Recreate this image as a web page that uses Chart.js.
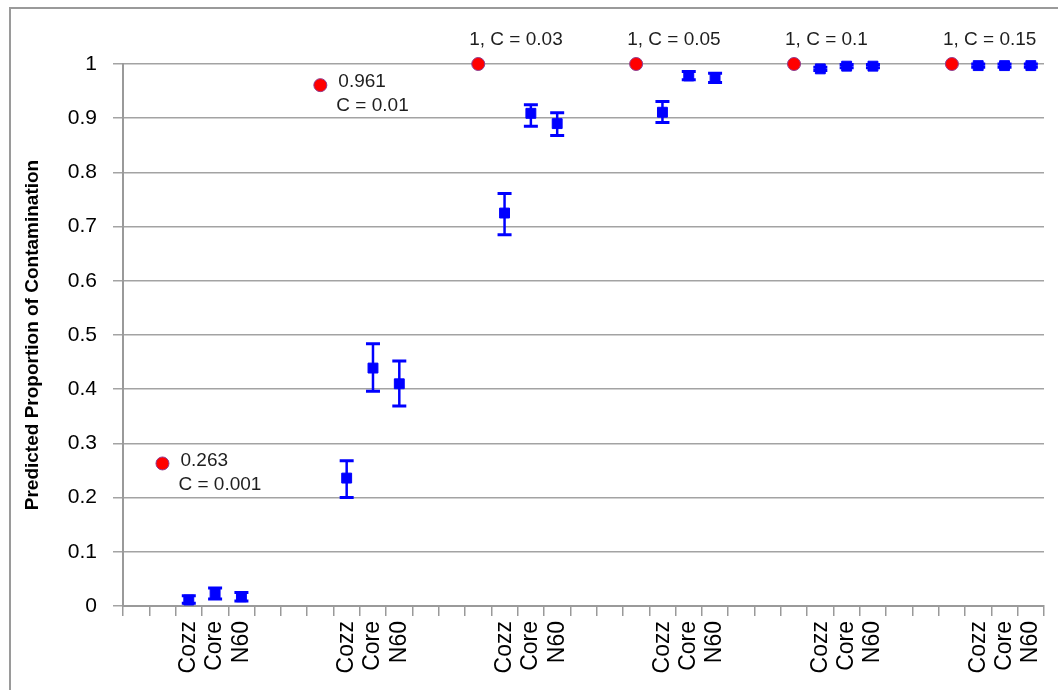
<!DOCTYPE html>
<html>
<head>
<meta charset="utf-8">
<script src="https://cdn.jsdelivr.net/npm/chart.js@4/dist/chart.umd.min.js"></script>
<style>
body{margin:0;background:#fff}
canvas{display:block}
</style>
</head>
<body>
<canvas id="chart" width="1058" height="690"></canvas>
<script>

// contamination level per group and the models fitted
const groups=["C = 0.001","C = 0.01","C = 0.03","C = 0.05","C = 0.1","C = 0.15"]
const models=["Cozz","Core","N60"]

// true proportion (red dots)
const truth=[0.263,0.961,1,1,1,1]

// predicted proportion with lower / upper bounds
const cozzVal=[0.011,0.236,0.725,0.911,0.991,0.997]
const cozzLo=[0.005,0.200,0.685,0.892,0.988,0.994]
const cozzHi=[0.019,0.268,0.761,0.931,0.994,1.000]

const coreVal=[0.023,0.439,0.909,0.978,0.996,0.997]
const coreLo=[0.013,0.396,0.885,0.971,0.993,0.994]
const coreHi=[0.033,0.484,0.925,0.986,0.999,1.000]

const n60Val=[0.017,0.410,0.890,0.974,0.996,0.997]
const n60Lo=[0.009,0.369,0.868,0.966,0.993,0.994]
const n60Hi=[0.025,0.452,0.910,0.983,0.999,1.000]

const yTicks=[0,0.1,0.2,0.3,0.4,0.5,0.6,0.7,0.8,0.9,1]

// each group: blank, truth, Cozz, Core, N60, blank
let labels=[]
groups.forEach(()=>{
["","",...models,""].forEach(l=>labels.push(l))
})
labels.pop()

function spread(vals,slot){
let arr=labels.map(()=>null)
vals.forEach((v,gi)=>arr[gi*6+slot]=v)
return arr
}

let est=[
{name:"Cozz",slot:2,val:cozzVal,lo:cozzLo,hi:cozzHi},
{name:"Core",slot:3,val:coreVal,lo:coreLo,hi:coreHi},
{name:"N60",slot:4,val:n60Val,lo:n60Lo,hi:n60Hi}
]

let datasets=[{
label:"Truth",
data:spread(truth,1),
showLine:false,
clip:false,
pointStyle:"circle",
pointRadius:6.5,
pointBackgroundColor:"#ff0000",
pointBorderColor:"#8e3c8e",
pointBorderWidth:1
}]

est.forEach(m=>{
datasets.push({
label:m.name,
data:spread(m.val,m.slot),
showLine:false,
clip:false,
pointStyle:"rect",
pointRadius:7,
pointBackgroundColor:"#0000ff",
pointBorderColor:"#0000ff",
pointBorderWidth:1
})
})

let frame={
id:"frame",
beforeDraw(chart){
let c=chart.ctx
c.save()
c.strokeStyle="#9a9a9a"
c.lineWidth=2
c.strokeRect(10,8,1200,900)
c.restore()
}
}

let errorBars={
id:"errorBars",
afterDatasetsDraw(chart){
let c=chart.ctx
let xs=chart.scales.x
let ys=chart.scales.y
c.save()
c.strokeStyle="#0000ff"
est.forEach(m=>{
m.val.forEach((v,gi)=>{
let x=xs.getPixelForValue(gi*6+m.slot)
let y1=ys.getPixelForValue(m.lo[gi])
let y2=ys.getPixelForValue(m.hi[gi])
c.lineWidth=2.5
c.beginPath()
c.moveTo(x,y1)
c.lineTo(x,y2)
c.stroke()
c.lineWidth=3
c.beginPath()
c.moveTo(x-7,y1)
c.lineTo(x+7,y1)
c.moveTo(x-7,y2)
c.lineTo(x+7,y2)
c.stroke()
})
})
c.restore()
}
}

let truthLabels={
id:"truthLabels",
afterDatasetsDraw(chart){
let c=chart.ctx
let meta=chart.getDatasetMeta(0)
c.save()
c.fillStyle="#1e1e1e"
c.font="19px 'Liberation Sans', Arial, sans-serif"
c.textBaseline="middle"
c.textAlign="left"
truth.forEach((v,gi)=>{
let p=meta.data[gi*6+1]
if(v<1){
c.fillText(String(v),p.x+18,p.y-3)
c.fillText(groups[gi],p.x+16,p.y+21)
}else{
c.fillText(v+", "+groups[gi],p.x-9,p.y-24)
}
})
c.restore()
}
}

new Chart(document.getElementById("chart"),{
type:"line",
data:{labels:labels,datasets:datasets},
options:{
responsive:false,
animation:false,
plugins:{legend:{display:false},tooltip:{enabled:false}},
layout:{padding:{left:10,top:64,right:14,bottom:0}},
scales:{
x:{
offset:true,
grid:{offset:true,drawOnChartArea:false,tickLength:10,color:"#9a9a9a",lineWidth:1.5},
border:{color:"#9a9a9a",width:2},
ticks:{autoSkip:false,maxRotation:90,minRotation:90,padding:5,color:"#000",
font:{size:23,family:"'Liberation Sans', Arial, sans-serif"}},
afterFit:s=>{s.height=84;s.paddingLeft=0;s.paddingRight=0}
},
y:{
min:0,
max:1,
afterBuildTicks:s=>{s.ticks=yTicks.map(v=>({value:v}))},
ticks:{padding:16,color:"#000",callback:v=>String(Number(v.toFixed(1))),
font:{size:21,family:"'Liberation Sans', Arial, sans-serif"}},
grid:{tickLength:10,color:"#a3a3a3",lineWidth:1.5},
border:{color:"#9a9a9a",width:2},
title:{display:true,text:"Predicted Proportion of Contamination",color:"#000",
padding:{top:11,bottom:0},
font:{size:19,weight:"bold",family:"'Liberation Sans', Arial, sans-serif"}},
afterFit:s=>{s.width=113;s.paddingTop=0;s.paddingBottom=0}
}
}
},
plugins:[frame,errorBars,truthLabels]
})

</script>
</body>
</html>
